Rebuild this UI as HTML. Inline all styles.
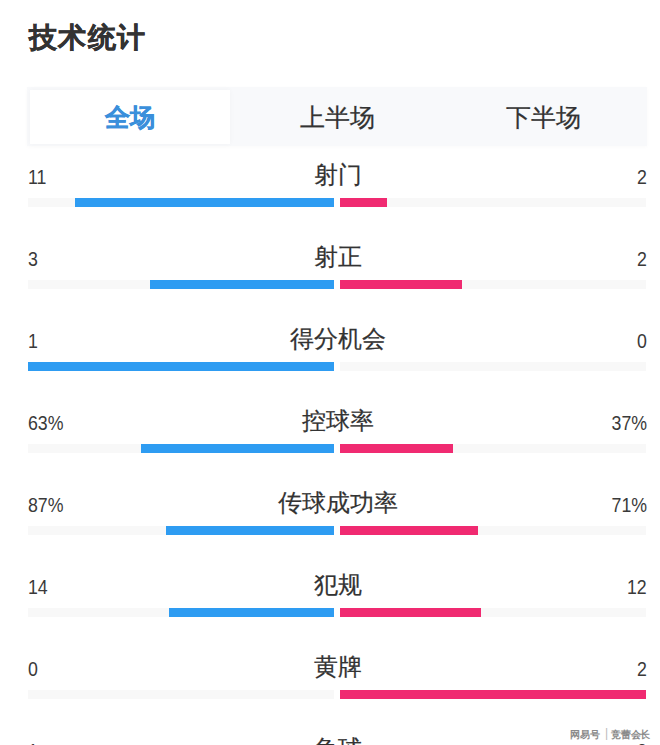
<!DOCTYPE html>
<html><head><meta charset="utf-8">
<style>
html,body{margin:0;padding:0;}
body{width:660px;height:745px;overflow:hidden;background:#fff;position:relative;font-family:"Liberation Sans",sans-serif;}
.title{position:absolute;left:29px;top:18px;font-size:28px;line-height:40px;font-weight:bold;color:#333;-webkit-text-stroke:0.4px #333;letter-spacing:1.3px;white-space:nowrap;}
.tabs{position:absolute;left:27px;top:87px;width:620px;height:59px;background:#f8f9fb;box-shadow:0 1px 4px rgba(0,0,0,0.025);}
.act{position:absolute;left:3px;top:3px;width:200px;height:54px;background:#fff;box-shadow:0 0 6px rgba(0,0,0,0.03);}
.tab{position:absolute;top:0.7px;height:59px;width:206.7px;text-align:center;font-size:25.3px;line-height:59px;color:#333;white-space:nowrap;-webkit-text-stroke:0.2px #333;}
.tab.active{color:#3a8fdb;font-weight:bold;-webkit-text-stroke:0.4px #3a8fdb;}
.row{position:absolute;left:0;width:660px;height:82px;}
.num{position:absolute;top:164px;font-size:19.5px;line-height:26px;color:#3a3a3a;white-space:nowrap;}
.num.l{left:28px;transform:scaleX(0.91);transform-origin:0 0;}
.num.r{right:13px;transform:scaleX(0.91);transform-origin:100% 0;}
.lab{position:absolute;left:137.6px;width:400px;text-align:center;top:158.6px;font-size:24px;line-height:32px;color:#333;white-space:nowrap;-webkit-text-stroke:0.2px #333;}
.trk{position:absolute;top:198px;height:9px;width:306px;background:#f8f8f8;}
.tl{left:28px;} .tr{left:340px;}
.bar{position:absolute;top:198px;height:9px;}
.bl{right:326px;background:#2e9cf2;}
.br{left:340px;background:#f02a71;}
.wm{position:absolute;top:727.6px;font-size:10px;line-height:14px;color:#8a8a8a;font-weight:bold;white-space:nowrap;text-shadow:0 0 1px #fff;}
.wm span{display:inline-block;}
</style></head><body>
<div class="title">技术统计</div>
<div class="tabs">
<div class="act"></div>
<div class="tab active" style="left:0">全场</div>
<div class="tab" style="left:206.7px">上半场</div>
<div class="tab" style="left:413.3px">下半场</div>
</div>
<div class="row" style="top:0px">
<div class="num l">11</div><div class="lab">射门</div><div class="num r">2</div>
<div class="trk tl"></div><div class="trk tr"></div>
<div class="bar bl" style="width:258.9px"></div><div class="bar br" style="width:47.1px"></div>
</div><div class="row" style="top:82px">
<div class="num l">3</div><div class="lab">射正</div><div class="num r">2</div>
<div class="trk tl"></div><div class="trk tr"></div>
<div class="bar bl" style="width:183.6px"></div><div class="bar br" style="width:122.4px"></div>
</div><div class="row" style="top:164px">
<div class="num l">1</div><div class="lab">得分机会</div><div class="num r">0</div>
<div class="trk tl"></div><div class="trk tr"></div>
<div class="bar bl" style="width:306.0px"></div><div class="bar br" style="width:0.0px"></div>
</div><div class="row" style="top:246px">
<div class="num l">63%</div><div class="lab">控球率</div><div class="num r">37%</div>
<div class="trk tl"></div><div class="trk tr"></div>
<div class="bar bl" style="width:192.8px"></div><div class="bar br" style="width:113.2px"></div>
</div><div class="row" style="top:328px">
<div class="num l">87%</div><div class="lab">传球成功率</div><div class="num r">71%</div>
<div class="trk tl"></div><div class="trk tr"></div>
<div class="bar bl" style="width:168.5px"></div><div class="bar br" style="width:137.5px"></div>
</div><div class="row" style="top:410px">
<div class="num l">14</div><div class="lab">犯规</div><div class="num r">12</div>
<div class="trk tl"></div><div class="trk tr"></div>
<div class="bar bl" style="width:164.8px"></div><div class="bar br" style="width:141.2px"></div>
</div><div class="row" style="top:492px">
<div class="num l">0</div><div class="lab">黄牌</div><div class="num r">2</div>
<div class="trk tl"></div><div class="trk tr"></div>
<div class="bar bl" style="width:0.0px"></div><div class="bar br" style="width:306.0px"></div>
</div><div class="row" style="top:574px">
<div class="num l">1</div><div class="lab">角球</div><div class="num r">3</div>
<div class="trk tl"></div><div class="trk tr"></div>
<div class="bar bl" style="width:76.5px"></div><div class="bar br" style="width:229.5px"></div>
</div>
<div class="wm" style="left:570px">网易号</div><div class="wm" style="left:605px;top:726px;font-size:12px;color:#bbb;font-weight:normal">|</div><div class="wm" style="left:611px;letter-spacing:-0.2px">竞蕾会长</div>
</body></html>
